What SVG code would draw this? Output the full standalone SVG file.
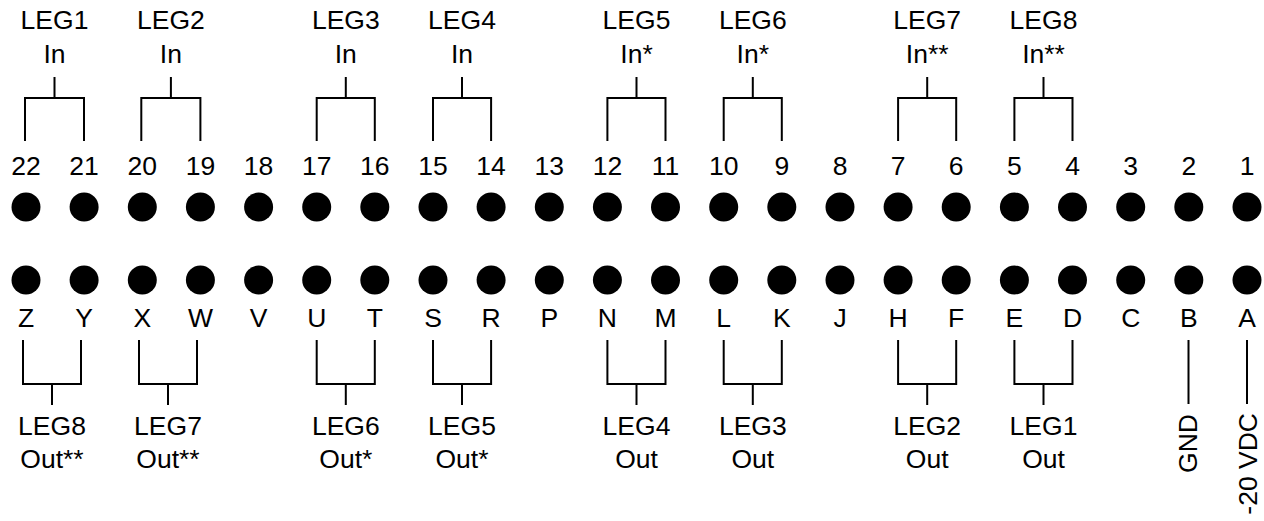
<svg xmlns="http://www.w3.org/2000/svg" width="1264" height="521" viewBox="0 0 1264 521">
<style>
text{font-family:"Liberation Sans",Arial,sans-serif;font-size:26.5px;fill:#000;text-anchor:middle}
.pin{fill:#000}
.w{stroke:#000;stroke-width:2;fill:none}
</style>
<rect width="1264" height="521" fill="#fff"/>
<g id="top-pins">
<circle class="pin" cx="26" cy="207" r="14.5"/><circle class="pin" cx="84.1" cy="207" r="14.5"/><circle class="pin" cx="142.3" cy="207" r="14.5"/><circle class="pin" cx="200.4" cy="207" r="14.5"/><circle class="pin" cx="258.6" cy="207" r="14.5"/><circle class="pin" cx="316.7" cy="207" r="14.5"/><circle class="pin" cx="374.8" cy="207" r="14.5"/><circle class="pin" cx="433" cy="207" r="14.5"/><circle class="pin" cx="491.1" cy="207" r="14.5"/><circle class="pin" cx="549.3" cy="207" r="14.5"/><circle class="pin" cx="607.4" cy="207" r="14.5"/><circle class="pin" cx="665.5" cy="207" r="14.5"/><circle class="pin" cx="723.7" cy="207" r="14.5"/><circle class="pin" cx="781.8" cy="207" r="14.5"/><circle class="pin" cx="840" cy="207" r="14.5"/><circle class="pin" cx="898.1" cy="207" r="14.5"/><circle class="pin" cx="956.2" cy="207" r="14.5"/><circle class="pin" cx="1014.4" cy="207" r="14.5"/><circle class="pin" cx="1072.5" cy="207" r="14.5"/><circle class="pin" cx="1130.7" cy="207" r="14.5"/><circle class="pin" cx="1188.8" cy="207" r="14.5"/><circle class="pin" cx="1247" cy="207" r="14.5"/>
<text x="26" y="175">22</text><text x="84.1" y="175">21</text><text x="142.3" y="175">20</text><text x="200.4" y="175">19</text><text x="258.6" y="175">18</text><text x="316.7" y="175">17</text><text x="374.8" y="175">16</text><text x="433" y="175">15</text><text x="491.1" y="175">14</text><text x="549.3" y="175">13</text><text x="607.4" y="175">12</text><text x="665.5" y="175">11</text><text x="723.7" y="175">10</text><text x="781.8" y="175">9</text><text x="840" y="175">8</text><text x="898.1" y="175">7</text><text x="956.2" y="175">6</text><text x="1014.4" y="175">5</text><text x="1072.5" y="175">4</text><text x="1130.7" y="175">3</text><text x="1188.8" y="175">2</text><text x="1247" y="175">1</text>
</g>
<g id="bottom-pins">
<circle class="pin" cx="26" cy="280" r="14.5"/><circle class="pin" cx="84.1" cy="280" r="14.5"/><circle class="pin" cx="142.3" cy="280" r="14.5"/><circle class="pin" cx="200.4" cy="280" r="14.5"/><circle class="pin" cx="258.6" cy="280" r="14.5"/><circle class="pin" cx="316.7" cy="280" r="14.5"/><circle class="pin" cx="374.8" cy="280" r="14.5"/><circle class="pin" cx="433" cy="280" r="14.5"/><circle class="pin" cx="491.1" cy="280" r="14.5"/><circle class="pin" cx="549.3" cy="280" r="14.5"/><circle class="pin" cx="607.4" cy="280" r="14.5"/><circle class="pin" cx="665.5" cy="280" r="14.5"/><circle class="pin" cx="723.7" cy="280" r="14.5"/><circle class="pin" cx="781.8" cy="280" r="14.5"/><circle class="pin" cx="840" cy="280" r="14.5"/><circle class="pin" cx="898.1" cy="280" r="14.5"/><circle class="pin" cx="956.2" cy="280" r="14.5"/><circle class="pin" cx="1014.4" cy="280" r="14.5"/><circle class="pin" cx="1072.5" cy="280" r="14.5"/><circle class="pin" cx="1130.7" cy="280" r="14.5"/><circle class="pin" cx="1188.8" cy="280" r="14.5"/><circle class="pin" cx="1247" cy="280" r="14.5"/>
<text x="26" y="327">Z</text><text x="84.1" y="327">Y</text><text x="142.3" y="327">X</text><text x="200.4" y="327">W</text><text x="258.6" y="327">V</text><text x="316.7" y="327">U</text><text x="374.8" y="327">T</text><text x="433" y="327">S</text><text x="491.1" y="327">R</text><text x="549.3" y="327">P</text><text x="607.4" y="327">N</text><text x="665.5" y="327">M</text><text x="723.7" y="327">L</text><text x="781.8" y="327">K</text><text x="840" y="327">J</text><text x="898.1" y="327">H</text><text x="956.2" y="327">F</text><text x="1014.4" y="327">E</text><text x="1072.5" y="327">D</text><text x="1130.7" y="327">C</text><text x="1188.8" y="327">B</text><text x="1247" y="327">A</text>
</g>
<g id="connectors">
<path class="w" d="M25,141V98H84V141M54.5,98V77"/>
<path class="w" d="M141.3,141V98H200.4V141M170.9,98V77"/>
<path class="w" d="M316.7,141V98H374.8V141M345.8,98V77"/>
<path class="w" d="M433,141V98H491.1V141M462,98V77"/>
<path class="w" d="M607.4,141V98H665.5V141M636.5,98V77"/>
<path class="w" d="M723.7,141V98H781.8V141M752.8,98V77"/>
<path class="w" d="M898.1,141V98H956.2V141M927.2,98V77"/>
<path class="w" d="M1014.4,141V98H1072.5V141M1043.5,98V77"/>
<path class="w" d="M23,340V384H81V340M52,384V405"/>
<path class="w" d="M139,340V384H197V340M168,384V405"/>
<path class="w" d="M316.7,340V384H374.8V340M345.8,384V405"/>
<path class="w" d="M433,340V384H491.1V340M462,384V405"/>
<path class="w" d="M607.4,340V384H665.5V340M636.5,384V405"/>
<path class="w" d="M723.7,340V384H781.8V340M752.8,384V405"/>
<path class="w" d="M898.1,340V384H956.2V340M927.2,384V405"/>
<path class="w" d="M1014.4,340V384H1072.5V340M1043.5,384V405"/>
<path class="w" d="M1188.5,340V404M1247,340V404"/>
</g>
<g id="in-labels">
<text x="54.5" y="29">LEG1</text><text x="54.5" y="63">In</text>
<text x="170.9" y="29">LEG2</text><text x="170.9" y="63">In</text>
<text x="345.8" y="29">LEG3</text><text x="345.8" y="63">In</text>
<text x="462" y="29">LEG4</text><text x="462" y="63">In</text>
<text x="636.5" y="29">LEG5</text><text x="636.5" y="63">In*</text>
<text x="752.8" y="29">LEG6</text><text x="752.8" y="63">In*</text>
<text x="927.2" y="29">LEG7</text><text x="927.2" y="63">In**</text>
<text x="1043.5" y="29">LEG8</text><text x="1043.5" y="63">In**</text>
</g>
<g id="out-labels">
<text x="52" y="435">LEG8</text><text x="52" y="468">Out**</text>
<text x="168" y="435">LEG7</text><text x="168" y="468">Out**</text>
<text x="345.8" y="435">LEG6</text><text x="345.8" y="468">Out*</text>
<text x="462" y="435">LEG5</text><text x="462" y="468">Out*</text>
<text x="636.5" y="435">LEG4</text><text x="636.5" y="468">Out</text>
<text x="752.8" y="435">LEG3</text><text x="752.8" y="468">Out</text>
<text x="927.2" y="435">LEG2</text><text x="927.2" y="468">Out</text>
<text x="1043.5" y="435">LEG1</text><text x="1043.5" y="468">Out</text>
</g>
<g id="power-labels">
<text transform="translate(1197,443.5) rotate(-90)">GND</text>
<text transform="translate(1257,413) rotate(-90)" style="text-anchor:end">-20 VDC</text>
</g>
</svg>
